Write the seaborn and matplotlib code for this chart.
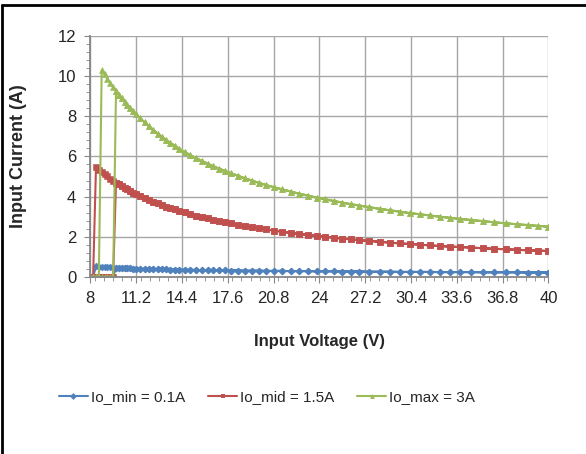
import numpy as np
import pandas as pd
import seaborn as sns
import matplotlib.pyplot as plt
from matplotlib.lines import Line2D
from matplotlib.ticker import MultipleLocator

# input voltage sweep (V)
volts = [8.0, 8.2, 8.4, 8.6, 8.8, 9.0, 9.2, 9.4, 9.6, 9.8, 10.0, 10.2, 10.4, 10.6,
         10.8, 11.0, 11.2, 11.5, 11.8, 12.1, 12.4, 12.7, 13.0, 13.3, 13.6, 13.9,
         14.2, 14.6, 15.0, 15.4, 15.8, 16.2, 16.6, 17.0, 17.4, 17.8, 18.3, 18.8,
         19.3, 19.8, 20.3, 20.8, 21.4, 22.0, 22.6, 23.2, 23.8, 24.4, 25.0, 25.6,
         26.2, 26.8, 27.5, 28.2, 28.9, 29.6, 30.3, 31.0, 31.7, 32.4, 33.1, 33.8,
         34.6, 35.4, 36.2, 37.0, 37.8, 38.6, 39.3, 40.0]

# input current (A), falling sweep (converter still running down to UVLO off)
i_min = [0, 0, 0.52, 0.51, 0.50, 0.49, 0.48, 0.47, 0.46, 0.46, 0.45, 0.44, 0.44, 0.43,
         0.43, 0.42, 0.42, 0.41, 0.40, 0.40, 0.39, 0.39, 0.38, 0.38, 0.37, 0.37,
         0.36, 0.36, 0.35, 0.35, 0.34, 0.34, 0.33, 0.33, 0.33, 0.32, 0.32, 0.31,
         0.31, 0.31, 0.30, 0.30, 0.30, 0.29, 0.29, 0.29, 0.28, 0.28, 0.28, 0.27,
         0.27, 0.27, 0.26, 0.26, 0.26, 0.25, 0.25, 0.25, 0.25, 0.24, 0.24, 0.24,
         0.24, 0.23, 0.23, 0.23, 0.23, 0.22, 0.22, 0.22]
i_mid = [0, 0, 5.45, 5.33, 5.22, 5.11, 5.00, 4.90, 4.80, 4.70, 4.61, 4.52, 4.44, 4.36,
         4.28, 4.20, 4.13, 4.03, 3.93, 3.84, 3.75, 3.66, 3.58, 3.50, 3.43, 3.36,
         3.29, 3.21, 3.13, 3.05, 2.98, 2.91, 2.85, 2.79, 2.73, 2.67, 2.60, 2.54,
         2.48, 2.42, 2.37, 2.31, 2.25, 2.19, 2.14, 2.09, 2.04, 2.00, 1.95, 1.91,
         1.87, 1.83, 1.79, 1.75, 1.71, 1.67, 1.64, 1.61, 1.57, 1.54, 1.51, 1.49,
         1.46, 1.43, 1.40, 1.38, 1.35, 1.33, 1.31, 1.29]
i_max = [0, 0, 0, 0, 10.30, 10.08, 9.86, 9.65, 9.45, 9.26, 9.07, 8.89, 8.72, 8.56,
         8.40, 8.25, 8.10, 7.89, 7.69, 7.50, 7.32, 7.14, 6.98, 6.82, 6.67, 6.53,
         6.39, 6.22, 6.06, 5.91, 5.77, 5.64, 5.51, 5.39, 5.28, 5.17, 5.04, 4.91,
         4.79, 4.68, 4.57, 4.47, 4.36, 4.25, 4.14, 4.05, 3.95, 3.87, 3.78, 3.70,
         3.62, 3.55, 3.47, 3.39, 3.32, 3.25, 3.18, 3.12, 3.06, 3.00, 2.94, 2.89,
         2.83, 2.78, 2.72, 2.67, 2.62, 2.58, 2.54, 2.50]

# turn-on voltage on the rising sweep (V)
v_on = 9.8

labels = ['Io_min = 0.1A', 'Io_mid = 1.5A', 'Io_max = 3A']
colors = ['#4F81BD', '#C0504D', '#9BBB59']
markers = ['D', 's', '^']
msizes = [3.5, 4.5, 5]

# build long table: rising sweep 8 -> 40, then falling sweep 40 -> 8
rows = []
for lab, cur in zip(labels, [i_min, i_mid, i_max]):
    v = np.array(volts)
    c = np.array(cur)
    rise = np.where(v < v_on, 0.0, c)
    xs = np.concatenate([v, v[::-1]])
    ys = np.concatenate([rise, c[::-1]])
    for k, (x, y) in enumerate(zip(xs, ys)):
        rows.append((lab, k, x, y))
df = pd.DataFrame(rows, columns=['serie', 'ordem', 'volt', 'corrente'])

sns.set_style('white')
plt.rcParams['font.family'] = ['Liberation Sans', 'DejaVu Sans']

fig = plt.figure(figsize=(5.86, 4.54), dpi=100)
ax = fig.add_axes([0.154, 0.39, 0.782, 0.531])

for lab, col, mk, ms in zip(labels, colors, markers, msizes):
    sns.lineplot(data=df[df['serie'] == lab], x='volt', y='corrente', color=col,
                 marker=mk, markersize=ms, markeredgewidth=0.4, markeredgecolor=col,
                 lw=1.5, sort=False, estimator=None, ax=ax, legend=False)

ax.set_xlim(8, 40)
ax.set_ylim(0, 12)
ax.xaxis.set_minor_locator(MultipleLocator(0.64))
ax.yaxis.set_major_locator(MultipleLocator(2))
ax.yaxis.set_minor_locator(MultipleLocator(0.4))
ticks_x = np.round(np.arange(8, 40.01, 3.2), 1)
ax.set_xticks(ticks_x)
ax.set_xticklabels([f'{t:g}' for t in ticks_x])
ax.grid(True, which='major', color='#A6A6A6', lw=1.0)
ax.tick_params(which='major', direction='out', length=4, color='#868686',
               labelsize=12, pad=6)
ax.tick_params(which='minor', direction='out', length=3, color='#868686')
ax.tick_params(axis='x', which='both', bottom=True)
ax.tick_params(axis='y', which='both', left=True)
for s in ['top', 'right']:
    ax.spines[s].set_visible(False)
for s in ['left', 'bottom']:
    ax.spines[s].set_color('#868686')
    ax.spines[s].set_linewidth(1.3)

ax.set_xlabel('Input Voltage (V)', fontsize=12, fontweight='bold', labelpad=20)
ax.set_ylabel('Input Current (A)', fontsize=13, fontweight='bold', labelpad=22)

handles = [Line2D([], [], color=c, marker=m, markersize=3.5, lw=1.5, markeredgewidth=0)
           for c, m in zip(colors, markers)]
fig.legend(handles, labels, loc='center', bbox_to_anchor=(267 / 586, 1 - 397 / 454),
           ncol=3, frameon=False, fontsize=11, handlelength=1.9, columnspacing=1.5,
           handletextpad=0.2)

# borda preta do quadro original
fig.add_artist(Line2D([0.003, 0.003], [0, 0.99], color='black', lw=2,
                      transform=fig.transFigure))
fig.add_artist(Line2D([0.003, 1], [0.99, 0.99], color='black', lw=2,
                      transform=fig.transFigure))

fig.savefig('out.png', dpi=100)
